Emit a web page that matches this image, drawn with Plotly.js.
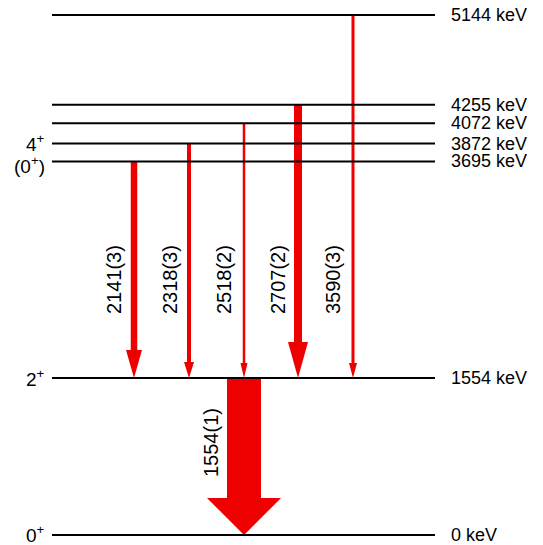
<!DOCTYPE html>
<html>
<head>
<meta charset="utf-8">
<script src="https://cdn.plot.ly/plotly-3.0.1.min.js"></script>
<style>html,body{margin:0;padding:0;background:#fff;}#chart{width:543px;height:545px;}</style>
</head>
<body>
<div id="chart"></div>
<script>
// ---- data ----
const levelEnergies = [0, 1554, 3695, 3872, 4072, 4255, 5144];
const levelLabels = ['0 keV', '1554 keV', '3695 keV', '3872 keV', '4072 keV', '4255 keV', '5144 keV'];
const spinLabels = ['0<sup>+</sup>', '2<sup>+</sup>', '(0<sup>+</sup>)', '4<sup>+</sup>', '', '', ''];
const gammaLabels = ['1554(1)', '2141(3)', '2318(3)', '2518(2)', '2707(2)', '3590(3)'];
const gammaFrom = [1554, 3695, 3872, 4072, 4255, 5144];
const gammaTo = [0, 1554, 1554, 1554, 1554, 1554];

// ---- styles / layout ----
const W = 543, H = 545;
const yBottomPx = 535, yTopPx = 15;
const pxPerKeV = (yBottomPx - yTopPx) / 5144;
const yRange = [-(H - yBottomPx) / pxPerKeV, yBottomPx / pxPerKeV];
const lineX0 = 52, lineX1 = 435;
const gammaX = [244, 134, 189, 244, 298, 353];
const shaftW = [34, 6.5, 4, 2.5, 8, 3];
const headW = [74, 16, 10, 7, 20, 8];
const headL = [37, 28, 16, 15, 36, 15];
const labelDx = [-33, -20, -19, -20, -20, -20];
const labelY = [910, 2522, 2522, 2522, 2522, 2522];
const rightShift = [0, 0, 0, 0, 0, 0, 0];
const spinShift = [1, 0, -4, 1, 0, 0, 0];
const red = '#ee0000';
const font = 'Liberation Sans, Arial, sans-serif';
const fsRight = 18, fsSpin = 19, fsGamma = 20;

const traces = [];
// arrows
for (let i = 0; i < gammaLabels.length; i++) {
  const x = gammaX[i], sw = shaftW[i] / 2, hw = headW[i] / 2;
  const yTop = gammaFrom[i], yTip = gammaTo[i];
  const yHead = yTip + headL[i] / pxPerKeV;
  traces.push({
    type: 'scatter', mode: 'lines', fill: 'toself', fillcolor: red,
    line: {width: 0, color: red}, hoverinfo: 'skip', showlegend: false,
    x: [x - sw, x + sw, x + sw, x + hw, x, x - hw, x - sw, x - sw],
    y: [yTop, yTop, yHead, yHead, yTip, yHead, yHead, yTop]
  });
}
// levels
levelEnergies.forEach(function (e) {
  traces.push({
    type: 'scatter', mode: 'lines', line: {color: '#000', width: 2},
    hoverinfo: 'skip', showlegend: false,
    x: [lineX0, lineX1], y: [e, e]
  });
});

const annotations = [];
levelEnergies.forEach(function (e, i) {
  annotations.push({
    x: 449, y: e, xref: 'x', yref: 'y', text: levelLabels[i], showarrow: false,
    xanchor: 'left', yanchor: 'middle', yshift: rightShift[i], height: 16,
    font: {family: font, size: fsRight, color: '#000'}
  });
  if (spinLabels[i]) {
    annotations.push({
      x: 47, y: e, xref: 'x', yref: 'y', text: spinLabels[i], showarrow: false,
      xanchor: 'right', yanchor: 'middle', yshift: spinShift[i],
      font: {family: font, size: fsSpin, color: '#000'}
    });
  }
});
gammaLabels.forEach(function (t, i) {
  annotations.push({
    x: gammaX[i] + labelDx[i], y: labelY[i], xref: 'x', yref: 'y', text: t,
    showarrow: false, textangle: -90, xanchor: 'center', yanchor: 'middle',
    font: {family: font, size: fsGamma, color: '#000'}
  });
});

const layout = {
  width: W, height: H,
  margin: {l: 0, r: 0, t: 0, b: 0, pad: 0},
  paper_bgcolor: '#fff', plot_bgcolor: '#fff',
  xaxis: {range: [0, W], visible: false, fixedrange: true},
  yaxis: {range: yRange, visible: false, fixedrange: true},
  annotations: annotations,
  showlegend: false
};
Plotly.newPlot('chart', traces, layout, {displayModeBar: false, staticPlot: true});
</script>
</body>
</html>
